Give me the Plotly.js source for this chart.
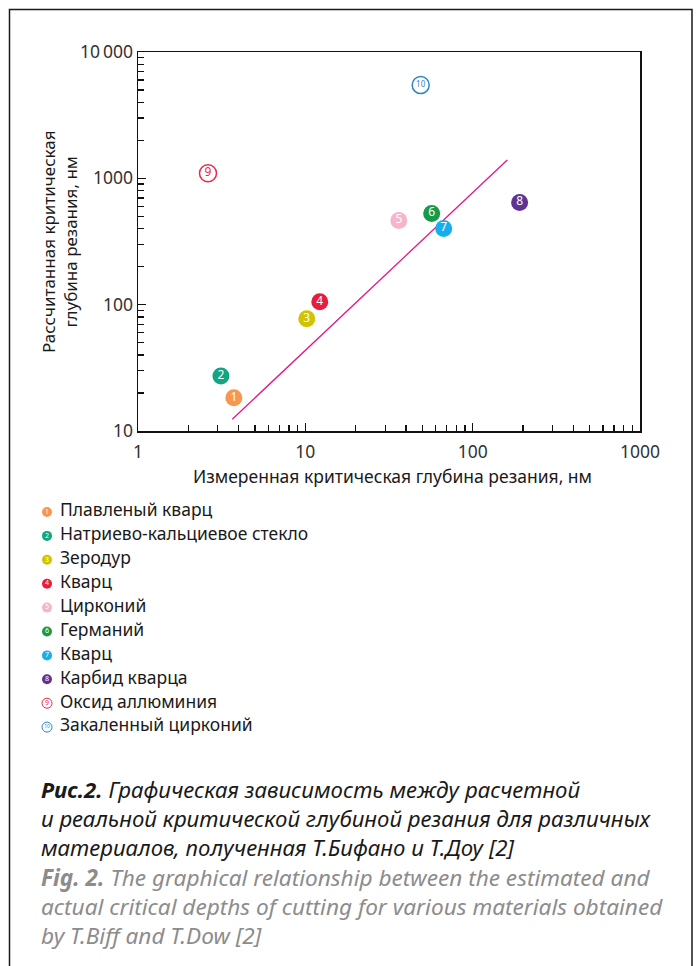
<!DOCTYPE html>
<html>
<head>
<meta charset="utf-8">
<script src="https://cdn.plot.ly/plotly-3.0.1.min.js"></script>
<style>
html,body{margin:0;padding:0;background:#fff;}
#chart{width:696px;height:966px;}
</style>
</head>
<body>
<div id="chart"></div>
<script>
// ---- data ----
const materials = ['Плавленый кварц', 'Натриево-кальциевое стекло', 'Зеродур', 'Кварц', 'Цирконий',
  'Германий', 'Кварц', 'Карбид кварца', 'Оксид аллюминия', 'Закаленный цирконий'];
const pointLabels = ['1', '2', '3', '4', '5', '6', '7', '8', '9', '10'];
const measured = [3.74, 3.13, 10.2, 12.2, 36.2, 56.9, 67.1, 190.8, 2.62, 48.9];
const calculated = [18.3, 27.3, 77.4, 105.6, 464, 527, 401, 645, 1096, 5470];
const filled = [true, true, true, true, true, true, true, true, false, false];
const colors = ['#F7964F', '#10A681', '#D2C300', '#E61E3C', '#F5B5CC', '#169C48', '#18AEEB', '#5F3393', '#E8294A', '#2A86C8'];
const fitX = [3.66, 161];
const fitY = [12.4, 1397];
const xTitle = 'Измеренная критическая глубина резания, нм';
const yTitle = 'Рассчитанная критическая<br>глубина резания, нм';
const captionRu = ['<b>Рис.2.</b> Графическая зависимость между расчетной',
  'и реальной критической глубиной резания для различных',
  'материалов, полученная Т.Бифано и Т.Доу [2]'];
const captionEn = ['<b>Fig. 2.</b> The graphical relationship between the estimated and',
  'actual critical depths of cutting for various materials obtained',
  'by T.Biff and T.Dow [2]'];

// ---- layout helpers (pixels -> paper) ----
const W = 696, H = 966;
const px = v => v / W;
const py = v => 1 - v / H;
const plotL = 138, plotR = 640, plotT = 52, plotB = 431;
const FONT = 'Noto Sans, Open Sans, sans-serif';
const CAPFONT = 'Liberation Sans Narrow, Noto Sans, sans-serif';

const main = {
  type: 'scatter', mode: 'markers+text', x: measured, y: calculated, text: pointLabels,
  textposition: 'middle center', cliponaxis: false, hoverinfo: 'none',
  marker: {
    size: 17,
    color: colors.map((c, i) => filled[i] ? c : '#ffffff'),
    line: { color: colors, width: filled.map(f => f ? 0 : 1.5) }
  },
  textfont: {
    family: FONT,
    size: pointLabels.map(t => t.length > 1 ? 8 : 12),
    color: colors.map((c, i) => filled[i] ? '#ffffff' : c)
  },
  showlegend: false
};
const fit = {
  type: 'scatter', mode: 'lines', x: fitX, y: fitY,
  line: { color: '#E3158C', width: 1.3 }, hoverinfo: 'none', showlegend: false
};

// legend built as an extra trace on a pixel-space axis pair
const legX0 = 47, legY0 = 512, legStep = 23.9;
const legY = materials.map((m, i) => legY0 + i * legStep);
const legMarkers = {
  type: 'scatter', mode: 'markers+text', xaxis: 'x2', yaxis: 'y2',
  x: materials.map(() => legX0), y: legY, text: pointLabels,
  textposition: 'middle center', cliponaxis: false, hoverinfo: 'none', showlegend: false,
  marker: {
    size: 10,
    color: colors.map((c, i) => filled[i] ? c : '#ffffff'),
    line: { color: colors, width: filled.map(f => f ? 0 : 1) }
  },
  textfont: { family: FONT, size: pointLabels.map(t => t.length > 1 ? 5 : 7), color: colors.map((c, i) => filled[i] ? '#ffffff' : c) }
};
const legText = {
  type: 'scatter', mode: 'text', xaxis: 'x2', yaxis: 'y2',
  x: materials.map(() => legX0 + 13), y: legY, text: materials,
  textposition: 'middle right', cliponaxis: false, hoverinfo: 'none', showlegend: false,
  textfont: { family: FONT, size: 17.5, color: '#1a1a1a' }
};

const axisCommon = {
  type: 'log', showgrid: false, zeroline: false, showline: true, linecolor: '#111', linewidth: 1.5,
  mirror: true, ticks: 'inside', ticklen: 8, tickwidth: 1.5, tickcolor: '#111', dtick: 1,
  exponentformat: 'none', tickfont: { family: FONT, size: 17.5, color: '#333' },
  minor: { ticks: 'inside', ticklen: 6, tickwidth: 1.3, tickcolor: '#111', dtick: 'D1', showgrid: false }
};

const annotations = [
  { xref: 'paper', yref: 'paper', x: px(392), y: py(476), text: xTitle, showarrow: false,
    font: { family: FONT, size: 17.5, color: '#1a1a1a' }, xanchor: 'center', yanchor: 'middle' },
  { xref: 'paper', yref: 'paper', x: px(59), y: py(242), text: yTitle, showarrow: false, textangle: -90,
    font: { family: FONT, size: 17, color: '#1a1a1a' }, xanchor: 'center', yanchor: 'middle' }
];
captionRu.forEach((t, i) => annotations.push({
  xref: 'paper', yref: 'paper', x: px(39), y: py(789 + i * 29), text: '<i>' + t + '</i>', showarrow: false,
  xanchor: 'left', yanchor: 'middle', font: { family: CAPFONT, size: 22.2, color: '#1a1a1a' }
}));
captionEn.forEach((t, i) => annotations.push({
  xref: 'paper', yref: 'paper', x: px(39), y: py(877 + i * 29), text: '<i>' + t + '</i>', showarrow: false,
  xanchor: 'left', yanchor: 'middle', font: { family: CAPFONT, size: 22.6, color: '#8c8c8c' }
}));

const layout = {
  width: W, height: H, margin: { l: 0, r: 0, t: 0, b: 0 },
  paper_bgcolor: '#fff', plot_bgcolor: 'rgba(0,0,0,0)', separators: '.\u2009',
  xaxis: Object.assign({}, axisCommon, { domain: [px(plotL), px(plotR)], range: [0, 3], anchor: 'y', ticklabelstandoff: 4 }),
  yaxis: Object.assign({}, axisCommon, { domain: [py(plotB), py(plotT)], range: [1, 4], anchor: 'x' }),
  xaxis2: { domain: [0, 1], range: [0, W], visible: false, anchor: 'y2', fixedrange: true },
  yaxis2: { domain: [0, 1], range: [H, 0], visible: false, anchor: 'x2', fixedrange: true },
  annotations: annotations,
  shapes: [{ type: 'rect', xref: 'paper', yref: 'paper', x0: px(9.5), x1: px(692), y0: py(990), y1: py(9.5),
    line: { color: '#1a1a1a', width: 1.5 }, fillcolor: 'rgba(0,0,0,0)', layer: 'below' }],
  showlegend: false
};

Plotly.newPlot('chart', [fit, main, legMarkers, legText], layout, { staticPlot: true, displayModeBar: false });
</script>
</body>
</html>
